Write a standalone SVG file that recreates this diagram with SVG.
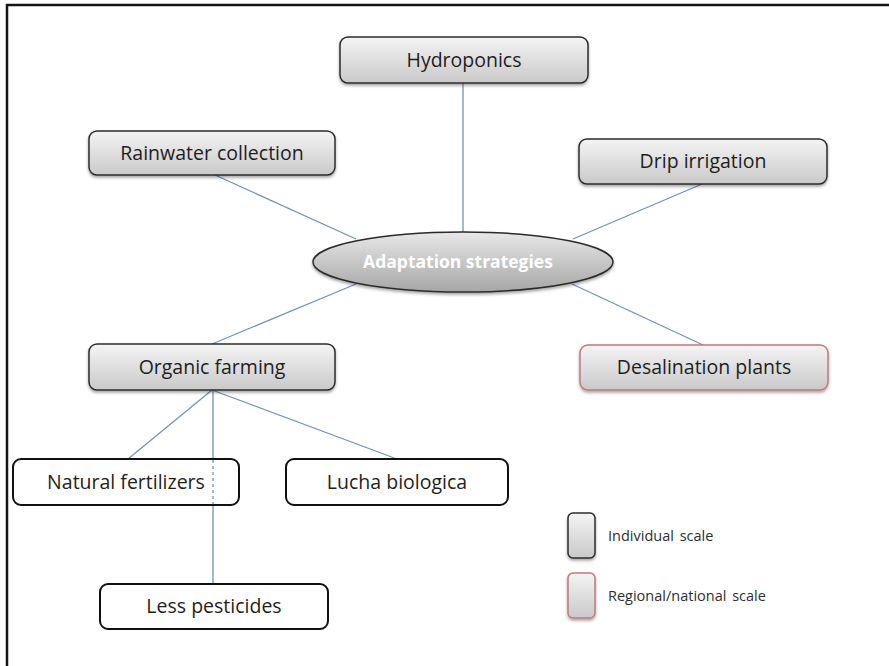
<svg xmlns="http://www.w3.org/2000/svg" width="889" height="666" viewBox="0 0 889 666">
  <defs>
    <linearGradient id="greyFill" x1="0" y1="0" x2="0" y2="1">
      <stop offset="0" stop-color="#f4f4f4"/>
      <stop offset="1" stop-color="#c9c9c9"/>
    </linearGradient>
    <linearGradient id="ovalFill" x1="0" y1="0" x2="0" y2="1">
      <stop offset="0" stop-color="#e8e8e8"/>
      <stop offset="1" stop-color="#a6a6a6"/>
    </linearGradient>
    <filter id="shadow" x="-10%" y="-20%" width="120%" height="160%">
      <feDropShadow dx="0" dy="2" stdDeviation="1.6" flood-color="#000" flood-opacity="0.35"/>
    </filter>
    <style>
      .link { stroke: #7393b7; stroke-width: 1.3; fill: none; }
      .grey { fill: url(#greyFill); stroke: #2b2b2b; stroke-width: 1.5; filter: url(#shadow); }
      .regional { fill: url(#greyFill); stroke: #c07a7a; stroke-width: 1.5; filter: url(#shadow); }
      .plain { fill: #ffffff; stroke: #111111; stroke-width: 2; }
      .label { font-family: "Open Sans", "Liberation Sans", sans-serif; font-size: 19.5px; fill: #1e1e1e; text-anchor: middle; }
      .center-label { font-family: "Open Sans", "Liberation Sans", sans-serif; font-size: 17.5px; font-weight: bold; fill: #ffffff; text-anchor: middle; }
      .legend-label { font-family: "Open Sans", "Liberation Sans", sans-serif; font-size: 14.5px; fill: #2e2e2e; word-spacing: 2px; }
    </style>
  </defs>

  <rect width="889" height="666" fill="#ffffff"/>
  <!-- outer frame -->
  <rect x="7" y="5" width="900" height="700" fill="none" stroke="#151515" stroke-width="2.5"/>

  <!-- connectors -->
  <g id="connectors">
    <line class="link" x1="463" y1="83" x2="463" y2="232"/>
    <line class="link" x1="215" y1="175" x2="356" y2="239"/>
    <line class="link" x1="702" y1="184" x2="573" y2="239"/>
    <line class="link" x1="356" y1="284" x2="212" y2="344"/>
    <line class="link" x1="572" y1="284" x2="703" y2="345"/>
    <line class="link" x1="212" y1="390" x2="128" y2="459"/>
    <line class="link" x1="212" y1="390" x2="397" y2="459"/>
    <line class="link" x1="213" y1="390" x2="213" y2="584"/>
  </g>

  <g id="hydroponics">
    <rect class="grey" x="340" y="37" width="248" height="46" rx="8"/>
    <text class="label" x="464" y="67">Hydroponics</text>
  </g>

  <g id="rainwater-collection">
    <rect class="grey" x="89" y="131" width="246" height="44" rx="8"/>
    <text class="label" x="212" y="160">Rainwater collection</text>
  </g>

  <g id="drip-irrigation">
    <rect class="grey" x="579" y="139" width="248" height="45" rx="8"/>
    <text class="label" x="703" y="168">Drip irrigation</text>
  </g>

  <g id="adaptation-strategies">
    <ellipse cx="463" cy="262" rx="150" ry="30" fill="url(#ovalFill)" stroke="#2b2b2b" stroke-width="1.5" filter="url(#shadow)"/>
    <text class="center-label" x="458" y="268">Adaptation strategies</text>
  </g>

  <g id="organic-farming">
    <rect class="grey" x="89" y="344" width="246" height="46" rx="8"/>
    <text class="label" x="212" y="374">Organic farming</text>
  </g>

  <g id="desalination-plants">
    <rect class="regional" x="580" y="345" width="248" height="45" rx="8"/>
    <text class="label" x="704" y="374">Desalination plants</text>
  </g>

  <g id="natural-fertilizers">
    <rect class="plain" x="13" y="459" width="226" height="46" rx="8"/>
    <line class="link" x1="213" y1="460" x2="213" y2="504" stroke-dasharray="3 3"/>
    <text class="label" x="126" y="489">Natural fertilizers</text>
  </g>

  <g id="lucha-biologica">
    <rect class="plain" x="286" y="459" width="222" height="46" rx="8"/>
    <text class="label" x="397" y="489">Lucha biologica</text>
  </g>

  <g id="less-pesticides">
    <rect class="plain" x="100" y="584" width="228" height="45" rx="8"/>
    <text class="label" x="214" y="613">Less pesticides</text>
  </g>

  <!-- legend -->
  <g id="legend-individual">
    <rect class="grey" x="568" y="513" width="27" height="45" rx="5"/>
    <text class="legend-label" x="608" y="541">Individual scale</text>
  </g>
  <g id="legend-regional">
    <rect class="regional" x="568" y="573" width="27" height="45" rx="5"/>
    <text class="legend-label" x="608" y="601">Regional/national scale</text>
  </g>
</svg>
